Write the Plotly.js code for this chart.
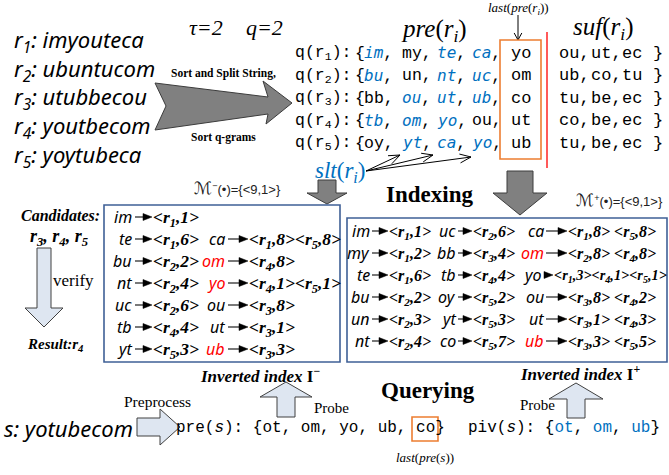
<!DOCTYPE html>
<html><head><meta charset="utf-8">
<script src="https://cdn.plot.ly/plotly-3.0.1.min.js"></script>
<style>html,body{margin:0;padding:0;background:#fff}#chart{width:669px;height:475px}</style>
</head><body><div id="chart"></div>
<script>
// ---------------- data ----------------
const tau = 2, qLen = 2;
const recordIds = [1, 2, 3, 4, 5];
const records = ['imyouteca', 'ubuntucom', 'utubbecou', 'youtbecom', 'yoytubeca'];
const preGrams = [['im','my','te','ca','yo'], ['bu','un','nt','uc','om'], ['bb','ou','ut','ub','co'], ['tb','om','yo','ou','ut'], ['oy','yt','ca','yo','ub']];
const sltGrams = [['im','te','ca'], ['bu','nt','uc'], ['ou','ut','ub'], ['tb','om','yo'], ['yt','ca','yo']];
const sufGrams = [['ou','ut','ec'], ['ub','co','tu'], ['tu','be','ec'], ['co','be','ec'], ['tu','be','ec']];
const mBound = [9, 1];
// inverted index I- (two columns; second column starts on row 2)
const idxMinusKeys = [['im','te','bu','nt','uc','tb','yt'], ['ca','om','yo','ou','ut','ub']];
const idxMinusPost = [
  [[[1,1]], [[1,6]], [[2,2]], [[2,4]], [[2,6]], [[4,4]], [[5,3]]],
  [[[1,8],[5,8]], [[4,8]], [[4,1],[5,1]], [[3,8]], [[3,1]], [[3,3]]]
];
const idxMinusRed = ['om','yo','ub'];
// inverted index I+ (three columns)
const idxPlusKeys = [['im','my','te','bu','un','nt'], ['uc','bb','tb','oy','yt','co'], ['ca','om','yo','ou','ut','ub']];
const idxPlusPost = [
  [[[1,1]], [[1,2]], [[1,6]], [[2,2]], [[2,3]], [[2,4]]],
  [[[2,6]], [[3,4]], [[4,4]], [[5,2]], [[5,3]], [[5,7]]],
  [[[1,8],[5,8]], [[2,8],[4,8]], [[1,3],[4,1],[5,1]], [[3,8],[4,2]], [[3,1],[4,3]], [[3,3],[5,5]]]
];
const idxPlusRed = ['om','ub'];
const candidates = [3, 4, 5];
const resultIds = [4];
const queryStr = 'yotubecom';
const preS = ['ot','om','yo','ub','co'];
const pivS = ['ot','om','ub'];

// ---------------- styles ----------------
const BLUE = '#0070C0', RED = '#FF0000', ORANGE = '#ED7D31';
const SERIF = 'Liberation Serif, Times New Roman, serif';
const SANS = 'Noto Sans, DejaVu Sans, sans-serif';
const MONO = 'Liberation Mono, Courier New, monospace';
const ARIAL = 'Liberation Sans, DejaVu Sans, sans-serif';
const GREY_FILL = '#808080', GREY_LINE = '#3c3c3c';
const LIGHT_FILL = '#DEE6F1', LIGHT_LINE = '#404040';
const BOX_LINE = '#3F6096';

const annotations = [], shapes = [];
function txt(x, y, text, font, xanchor) {
  annotations.push({x: x, y: y, xref: 'x', yref: 'y', text: text, showarrow: false,
    xanchor: xanchor || 'left', yanchor: 'middle', borderpad: 0,
    font: Object.assign({color: '#000'}, font)});
}
function path(d, fill, lc, lw) {
  shapes.push({type: 'path', xref: 'x', yref: 'y', path: d, fillcolor: fill || 'rgba(0,0,0,0)',
    line: {color: lc || '#000', width: lw == null ? 1 : lw}});
}
function poly(pts, fill, lc, lw) { path('M' + pts.map(p => p[0] + ',' + p[1]).join(' L') + ' Z', fill, lc, lw); }
function rect(x0, y0, x1, y1, lc, lw) {
  shapes.push({type: 'rect', xref: 'x', yref: 'y', x0: x0, y0: y0, x1: x1, y1: y1,
    line: {color: lc, width: lw}, fillcolor: 'rgba(0,0,0,0)'});
}
function seg(x0, y0, x1, y1, lc, lw) {
  shapes.push({type: 'line', xref: 'x', yref: 'y', x0: x0, y0: y0, x1: x1, y1: y1, line: {color: lc, width: lw}});
}
function openArrow(x0, y0, x1, y1, len, ang) {
  const a = Math.atan2(y1 - y0, x1 - x0);
  const p1 = [x1 - len * Math.cos(a - ang), y1 - len * Math.sin(a - ang)];
  const p2 = [x1 - len * Math.cos(a + ang), y1 - len * Math.sin(a + ang)];
  path(`M${x0},${y0} L${x1},${y1} M${p1[0]},${p1[1]} L${x1},${y1} L${p2[0]},${p2[1]}`, null, '#000', 1);
}
function idxArrow(x0, x1, y) {
  if (x1 - x0 > 10) seg(x0, y, x1 - 6, y, '#404040', 1.4);
  poly([[x1 - 9, y - 3.5], [x1, y], [x1 - 9, y + 3.5]], '#000', '#000', 0.5);
}
function blockV(cx, yBase, yNeck, yTip, sh, hh, fill, lc) {
  poly([[cx - sh, yBase], [cx + sh, yBase], [cx + sh, yNeck], [cx + hh, yNeck], [cx, yTip], [cx - hh, yNeck], [cx - sh, yNeck]], fill, lc, 1);
}
function blockH(x0, xNeck, xTip, cy, sh, hh, fill, lc) {
  poly([[x0, cy - sh], [xNeck, cy - sh], [xNeck, cy - hh], [xTip, cy], [xNeck, cy + hh], [xNeck, cy + sh], [x0, cy + sh]], fill, lc, 1);
}
const post = p => `&lt;r<sub>${p[0]}</sub>,${p[1]}&gt;`;
const scriptM = sign => `<span style="font-size:17px">ℳ</span><sup>${sign}</sup>(•)={&lt;${mBound[0]},${mBound[1]}&gt;}`;

// ---------------- top-left: records ----------------
records.forEach((r, i) => {
  txt(13, 41 + i * 28.7, `r<sub>${recordIds[i]}</sub>: ${r}`, {family: SANS, size: 22, style: 'italic'});
});
txt(188, 27, `τ=${tau}`, {family: SERIF, size: 22, style: 'italic'});
txt(245, 27, `q=${qLen}`, {family: SERIF, size: 22, style: 'italic'});

// big grey arrow
poly([[155, 83], [268, 97], [263, 81], [292, 103], [266, 124], [268, 114], [155, 130], [166, 106]], GREY_FILL, GREY_LINE, 1);
txt(223, 73, 'Sort and Split String,', {family: SERIF, size: 11.5, weight: 'bold'}, 'center');
txt(223, 137, 'Sort q-grams', {family: SERIF, size: 11.5, weight: 'bold'}, 'center');

// ---------------- q-gram rows ----------------
txt(434, 30, '<i>pre</i>(<i>r<sub>i</sub></i>)', {family: SERIF, size: 25}, 'center');
txt(603, 28, '<i>suf</i>(<i>r<sub>i</sub></i>)', {family: SERIF, size: 25}, 'center');
txt(518, 8, '<i>last</i>(<i>pre</i>(<i>r<sub>i</sub></i>))', {family: SERIF, size: 13}, 'center');
openArrow(518, 15, 518, 40, 8, 0.5);

const preSlotX = [363, 401, 436, 471];
records.forEach((r, i) => {
  const y = 53 + i * 22.6;
  const f = {family: MONO, size: 16.5};
  txt(294, y, `q(r<sub>${recordIds[i]}</sub>):`, f);
  txt(354, y, '{', f);
  preGrams[i].slice(0, 4).forEach((g, k) => {
    const blue = sltGrams[i].includes(g);
    const t = blue ? `<i><span style="color:${BLUE};font-family:DejaVu Sans Mono;font-size:16px">${g}</span></i>,` : `${g},`;
    txt(preSlotX[k], y, t, f);
  });
  txt(521, y, preGrams[i][4], {family: MONO, size: 17}, 'center');
  sufGrams[i].forEach((g, k) => txt(558 + k * 31.5, y, k < 2 ? g + ',' : g, {family: MONO, size: 17}));
  txt(652, y, '}', {family: MONO, size: 17});
});
rect(500, 40, 541, 159, ORANGE, 1.6);
seg(547, 32, 547, 168, RED, 1.3);

// slt label + arrows
txt(340, 172, '<i>slt</i>(<i>r<sub>i</sub></i>)', {family: SERIF, size: 23, color: BLUE}, 'center');
[[400, 155], [433, 155], [471, 157]].forEach(t => openArrow(366, 171, t[0], t[1], 12, 0.38));

// grey down arrows
blockV(327, 180, 193, 204, 9, 20, GREY_FILL, GREY_LINE);
blockV(520, 171, 193, 215, 13, 27, GREY_FILL, GREY_LINE);
txt(429, 194, 'Indexing', {family: SERIF, size: 23, weight: 'bold'}, 'center');
txt(237, 188, scriptM('−'), {family: ARIAL, size: 13, color: '#222'}, 'center');
txt(619, 200, scriptM('+'), {family: ARIAL, size: 13, color: '#222'}, 'center');

// ---------------- inverted index I- ----------------
rect(104, 205, 340, 362, BOX_LINE, 1.6);
const minusCols = [{keyR: 133, postL: 152, row0: 0}, {keyR: 226, postL: 248, row0: 1}];
idxMinusKeys.forEach((col, c) => {
  const L = minusCols[c];
  col.forEach((k, j) => {
    const y = 217 + (j + L.row0) * 22;
    txt(L.keyR, y, k, {family: SANS, size: 16, style: 'italic', color: idxMinusRed.includes(k) ? RED : '#000'}, 'right');
    idxArrow(L.keyR + 2, L.postL, y);
    txt(L.postL, y + 1, idxMinusPost[c][j].map(post).join(''), {family: SERIF, size: 17.5, weight: 'bold', style: 'italic'});
  });
});
txt(260, 375, '<i>Inverted index</i> I<sup>−</sup>', {family: SERIF, size: 17, weight: 'bold'}, 'center');

// ---------------- inverted index I+ ----------------
rect(347, 218, 667, 362, BOX_LINE, 1.6);
const plusCols = [{keyR: 371, postL: 388}, {keyR: 457, postL: 472}, {keyR: 545, postL: 567}];
idxPlusKeys.forEach((col, c) => {
  const L = plusCols[c];
  col.forEach((k, j) => {
    const y = 231 + j * 22;
    const list = idxPlusPost[c][j];
    const long = list.length > 2;
    const keyR = long ? L.keyR - 3 : L.keyR;
    const postL = long ? keyR + 11 : L.postL;
    txt(keyR, y, k, {family: SANS, size: 16, style: 'italic', color: idxPlusRed.includes(k) ? RED : '#000'}, 'right');
    idxArrow(keyR + 1, postL, y);
    txt(postL, y + 1, list.map(post).join(long ? '' : ' '), {family: SERIF, size: long ? 14.3 : 16, weight: 'bold', style: 'italic'});
  });
});
txt(580, 373, '<i>Inverted index</i> I<sup>+</sup>', {family: SERIF, size: 17, weight: 'bold'}, 'center');

// ---------------- candidates / verify ----------------
txt(60, 215, 'Candidates:', {family: SERIF, size: 16, weight: 'bold', style: 'italic'}, 'center');
txt(59, 237, candidates.map(c => `r<sub>${c}</sub>`).join(', '), {family: SERIF, size: 18, weight: 'bold', style: 'italic'}, 'center');
blockV(44, 248, 308, 327, 7, 19, LIGHT_FILL, LIGHT_LINE);
txt(52, 280, 'verify', {family: SERIF, size: 17});
txt(55, 345, 'Result:' + resultIds.map(c => `r<sub>${c}</sub>`).join(', '), {family: SERIF, size: 15, weight: 'bold', style: 'italic'}, 'center');

// ---------------- querying ----------------
txt(428, 390, 'Querying', {family: SERIF, size: 23, weight: 'bold'}, 'center');
txt(3, 428, `s: ${queryStr}`, {family: SANS, size: 22, style: 'italic'});
blockH(137, 160, 180, 427, 9, 18, LIGHT_FILL, LIGHT_LINE);
txt(157, 401, 'Preprocess', {family: SERIF, size: 15.5}, 'center');
txt(175, 428, `pre(<i>s</i>): {${preS.join(', ')}}`, {family: MONO, size: 16});
rect(412, 417, 438, 441, ORANGE, 1.6);
txt(425, 457, '<i>last</i>(<i>pre</i>(<i>s</i>))', {family: SERIF, size: 13}, 'center');
txt(467, 428, `piv(<i>s</i>): {` + pivS.map(g => `<span style="color:${BLUE}">${g}</span>`).join(', ') + '}', {family: MONO, size: 16});
blockV(286, 417, 397, 382, 9, 26, LIGHT_FILL, LIGHT_LINE);
blockV(576, 418, 399, 383, 9, 27, LIGHT_FILL, LIGHT_LINE);
txt(331, 408, 'Probe', {family: SERIF, size: 15}, 'center');
txt(537, 405, 'Probe', {family: SERIF, size: 15}, 'center');

// ---------------- render ----------------
const layout = {
  width: 669, height: 475,
  margin: {l: 0, r: 0, t: 0, b: 0, pad: 0},
  paper_bgcolor: '#fff', plot_bgcolor: '#fff',
  showlegend: false,
  xaxis: {range: [0, 669], visible: false, fixedrange: true},
  yaxis: {range: [475, 0], visible: false, fixedrange: true},
  annotations: annotations, shapes: shapes
};
Plotly.newPlot('chart', [{x: [], y: [], type: 'scatter', mode: 'markers', hoverinfo: 'skip'}], layout, {staticPlot: true, displayModeBar: false});
</script>
</body></html>
